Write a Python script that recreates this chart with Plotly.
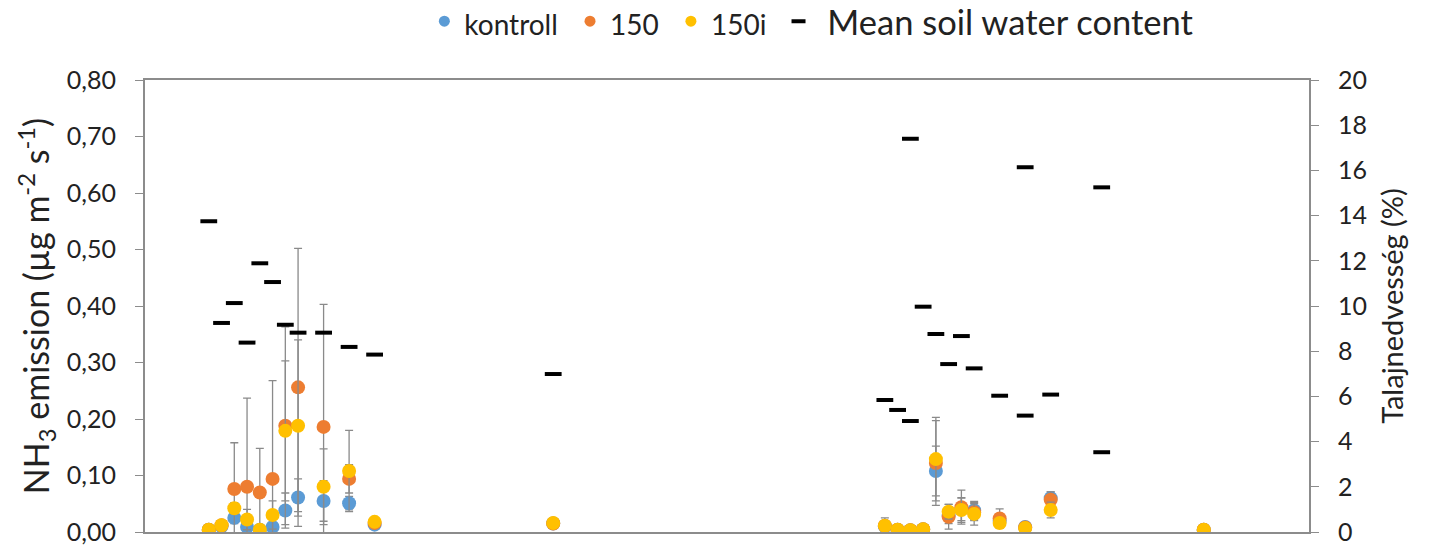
import plotly.graph_objects as go

# ---- data (x = day index along the unlabeled time axis) ----
days = [20, 24, 28, 32, 36, 40, 44, 48, 56, 64, 72, 128,
        232, 236, 240, 244, 248, 252, 256, 260, 268, 276, 284, 332]

kontroll = [0.004, 0.010, 0.025, 0.009, 0.004, 0.009, 0.038, 0.061, 0.055, 0.051, 0.013, 0.015,
            0.010, 0.004, 0.003, 0.005, 0.108, 0.030, 0.040, 0.038, 0.020, 0.009, 0.060, 0.004]
kontroll_err = [0.002, 0.004, 0.010, 0.006, 0.003, 0.008, 0.031, 0.033, 0.036, 0.012, 0.004, 0.003,
                0.005, 0.002, 0.002, 0.002, 0.044, 0.015, 0.020, 0.016, 0.012, 0.005, 0.011, 0.002]

d150 = [0.004, 0.012, 0.076, 0.080, 0.070, 0.094, 0.188, 0.256, 0.186, 0.094, 0.016, 0.015,
        0.011, 0.004, 0.003, 0.005, 0.122, 0.027, 0.044, 0.035, 0.024, 0.008, 0.057, 0.004]
d150_err = [0.002, 0.004, 0.082, 0.157, 0.078, 0.174, 0.175, 0.246, 0.217, 0.025, 0.004, 0.003,
            0.008, 0.002, 0.002, 0.002, 0.075, 0.022, 0.030, 0.015, 0.017, 0.004, 0.014, 0.002]

d150i = [0.004, 0.012, 0.042, 0.022, 0.004, 0.030, 0.179, 0.188, 0.080, 0.108, 0.018, 0.016,
         0.011, 0.004, 0.003, 0.005, 0.129, 0.036, 0.039, 0.032, 0.016, 0.007, 0.039, 0.004]
d150i_err = [0.002, 0.004, 0.010, 0.018, 0.003, 0.025, 0.124, 0.152, 0.067, 0.072, 0.004, 0.003,
             0.014, 0.002, 0.002, 0.002, 0.074, 0.013, 0.022, 0.020, 0.008, 0.004, 0.014, 0.002]

soil_days = [20, 24, 28, 32, 36, 40, 44, 48, 56, 64, 72, 128,
             232, 236, 240, 240, 244, 248, 252, 256, 260, 268, 276, 276, 284, 300, 300]
soil = [13.75, 9.25, 10.13, 8.38, 11.89, 11.06, 9.17, 8.82, 8.82, 8.19, 7.85, 6.99,
        5.84, 5.40, 4.91, 17.4, 9.97, 8.76, 7.43, 8.67, 7.24, 6.03, 16.14, 5.15, 6.08, 15.25, 3.53]

left_ticks = [0, 0.1, 0.2, 0.3, 0.4, 0.5, 0.6, 0.7, 0.8]
right_ticks = [0, 2, 4, 6, 8, 10, 12, 14, 16, 18, 20]

FONT = "Lato"
AX = "#8c8c8c"
ERR = "#8a8a8a"
NB = "\u00a0"

fig = go.Figure()

series = [
    ("kontroll", kontroll, kontroll_err, "#5B9BD5"),
    ("150", d150, d150_err, "#ED7D31"),
    ("150i", d150i, d150i_err, "#FFC000"),
]
for name, vals, errs, col in series:
    fig.add_trace(go.Scatter(
        x=days, y=vals, mode="markers", name=name, showlegend=False,
        marker=dict(size=14, color=col, line=dict(width=0)),
        error_y=dict(type="data", array=errs, visible=True, color=ERR, thickness=1.3, width=4),
    ))

fig.add_trace(go.Scatter(
    x=soil_days, y=soil, mode="markers", name="Mean soil water content", yaxis="y2",
    showlegend=False,
    marker=dict(symbol="line-ew", size=12, color="black", line=dict(width=4, color="black")),
))

# legend-only entries (smaller symbols like the reference legend)
for name, _, _, col in series:
    fig.add_trace(go.Scatter(
        x=[None], y=[None], mode="markers",
        name="<span style='font-size:28px'>" + name + NB + "</span>",
        marker=dict(size=11, color=col),
    ))
fig.add_trace(go.Scatter(
    x=[None], y=[None], mode="markers", yaxis="y2",
    name=NB + "Mean soil water content",
    marker=dict(symbol="line-ew", size=10, color="black", line=dict(width=4, color="black")),
))

fig.update_layout(
    width=1440, height=548,
    margin=dict(l=145, r=131, t=80, b=16, autoexpand=False),
    paper_bgcolor="white", plot_bgcolor="white",
    font=dict(family=FONT, size=25, color="#222"),
    separators=", ",
    showlegend=True,
    legend=dict(orientation="h", x=0.24, xanchor="left", y=1.13, yanchor="middle",
                font=dict(family=FONT, size=34.5, color="#222"), itemwidth=30,
                bgcolor="rgba(0,0,0,0)"),
    xaxis=dict(range=[0, 365], showticklabels=False, ticks="", showgrid=False, zeroline=False,
               showline=True, linecolor=AX, linewidth=2, mirror=True),
    yaxis=dict(range=[0, 0.8], tickvals=left_ticks, tickformat=".2f", ticks="outside", ticklen=8,
               tickcolor=AX, showgrid=False, zeroline=False, showline=True, linecolor=AX, linewidth=2,
               tickfont=dict(size=25), ticklabelstandoff=14,
               title=dict(text="NH<sub>3</sub> emission (µg m<sup>-2</sup> s<sup>-1</sup>)",
                          font=dict(size=34), standoff=7)),
    yaxis2=dict(range=[0, 20], tickvals=right_ticks, overlaying="y", side="right", ticks="outside",
                ticklen=8, tickcolor=AX, showgrid=False, zeroline=False, showline=True, linecolor=AX,
                linewidth=2, tickfont=dict(size=25), ticklabelstandoff=14,
                title=dict(text="Talajnedvesség (%)", font=dict(size=29), standoff=17)),
)

fig.write_html("out.html")
